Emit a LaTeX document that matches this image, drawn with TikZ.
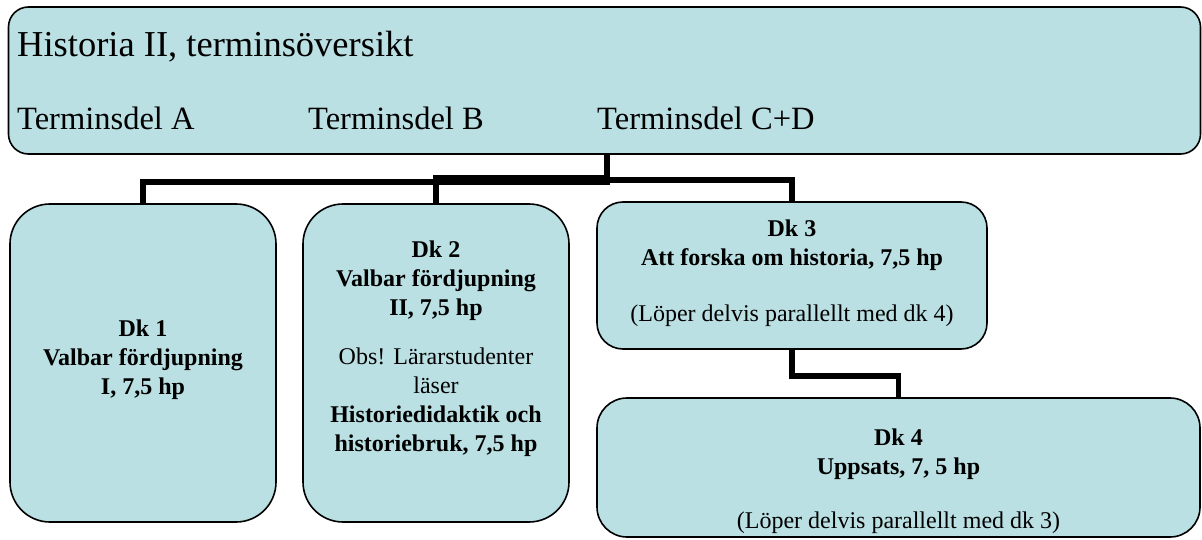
\documentclass[tikz,border=0pt]{standalone}
\usepackage{fontspec}
\setmainfont{Liberation Serif}
\definecolor{boxfill}{RGB}{186,224,227}
\begin{document}
\begin{tikzpicture}[x=1pt,y=-1pt,
  box/.style={draw=black,line width=1.6pt,fill=boxfill,rectangle,inner sep=0pt},
  conn/.style={draw=black,line width=5.5pt},
  txt/.style={inner sep=0pt,align=center,font=\fontsize{24}{29}\selectfont},
  head/.style={inner sep=0pt,anchor=base west,font=\fontsize{32.5}{38}\selectfont}]
\useasboundingbox (0,0) rectangle (1202,540);
% boxes
\node[box,rounded corners=20pt,minimum width=1192pt,minimum height=147pt] (top) at (604.5,80.5) {};
\node[box,rounded corners=40pt,minimum width=266pt,minimum height=318pt] (b1) at (143,363) {};
\node[box,rounded corners=40pt,minimum width=266pt,minimum height=318pt] (b2) at (436,363) {};
\node[box,rounded corners=26pt,minimum width=390pt,minimum height=147pt] (b3) at (792,275.5) {};
\node[box,rounded corners=30pt,minimum width=603pt,minimum height=139pt] (b4) at (898.5,467.5) {};
% header texts
\node[head,font=\fontsize{36.5}{40}\selectfont] (h0) at (17,57) {Historia II, terminsöversikt};
\node[head] (hA) at (17,130) {Terminsdel A};
\node[head] (hB) at (308,130) {Terminsdel B};
\node[head] (hC) at (597,130) {Terminsdel C+D};
% connectors
\coordinate (hub) at (607,154);
\draw[conn] (hub) -- ++(0,28) -| (b1.north);
\draw[conn] (hub) -- ++(0,24) -| (b2.north);
\draw[conn] (hub) -- ++(0,26) -| (b3.north);
\draw[conn] (b3.south) -- ++(0,26) -| (b4.north);
% box texts
\node[txt] (t1) at (143,360) {\bfseries Dk 1\\\bfseries Valbar fördjupning\\\bfseries I, 7,5 hp};
\node[txt] (t2) at (436,349) {\bfseries Dk 2\\\bfseries Valbar fördjupning\\\bfseries II, 7,5 hp\\[20pt]Obs! Lärarstudenter\\läser\\\bfseries Historiedidaktik och\\\bfseries historiebruk, 7,5 hp};
\node[txt] (t3) at (792,273) {\bfseries Dk 3\\\bfseries Att forska om historia, 7,5 hp\\[27pt](Löper delvis parallellt med dk 4)};
\node[txt] (t4) at (898.5,481) {\bfseries Dk 4\\\bfseries Uppsats, 7, 5 hp\\[25pt](Löper delvis parallellt med dk 3)};
\end{tikzpicture}
\end{document}
